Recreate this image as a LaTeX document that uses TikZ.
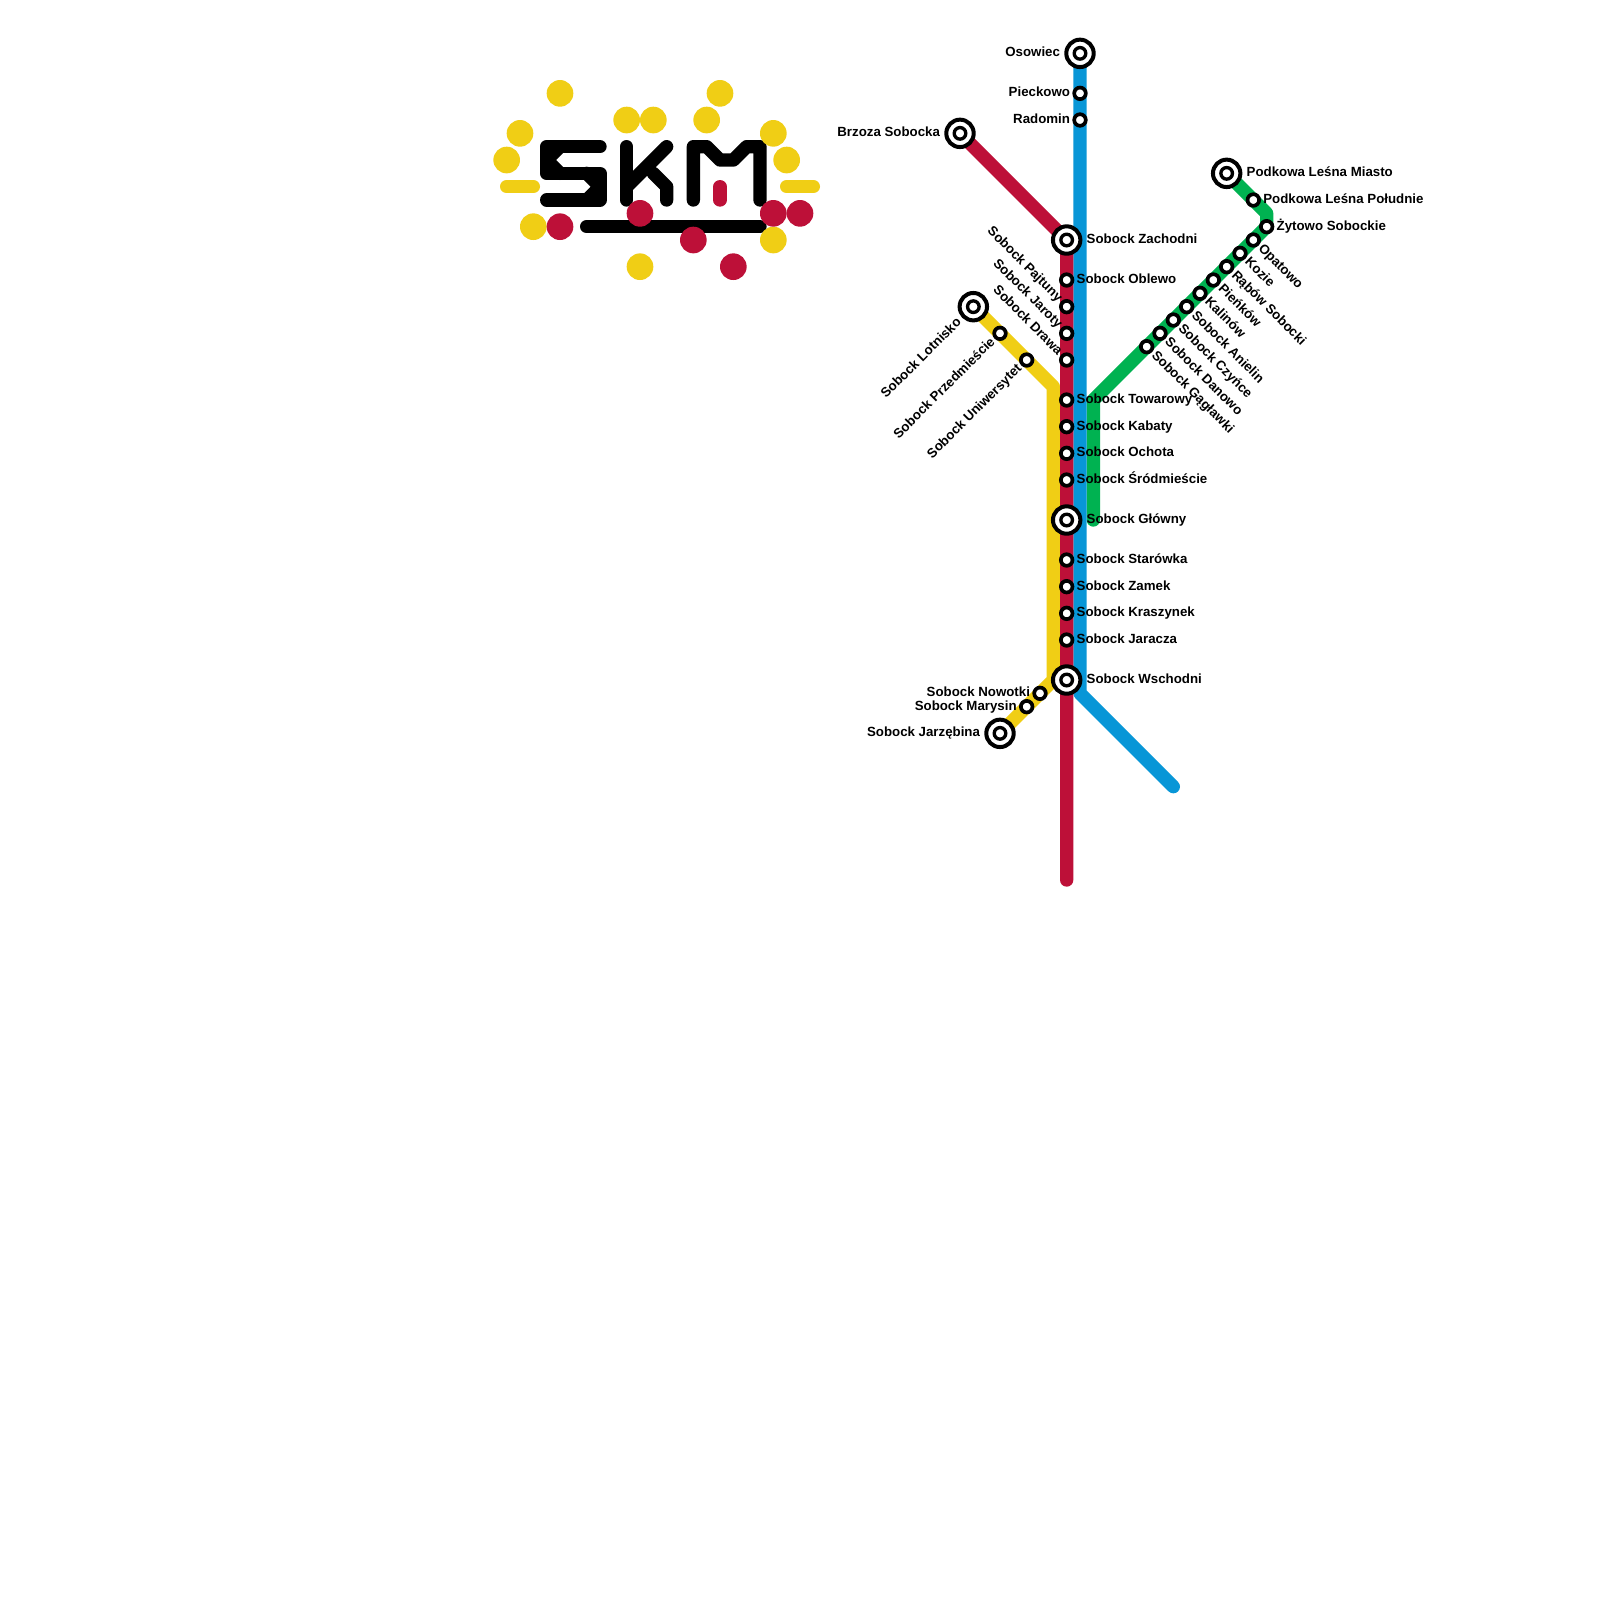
\documentclass[tikz,border=0pt]{standalone}
\usepackage{fontspec}
\setmainfont{Liberation Sans Bold}
\definecolor{lred}{HTML}{BD1038}
\definecolor{lblue}{HTML}{0896D7}
\definecolor{lgreen}{HTML}{00B251}
\definecolor{lyellow}{HTML}{F0CE15}
\pgfdeclarelayer{lines}
\pgfsetlayers{lines,main}
\tikzset{
 x=0.133333cm,y=-0.133333cm,
 lineway/.style={line width=3.793pt,line cap=round,line join=round},
 logo/.style={line width=3.793pt,line cap=round,line join=round,draw=black},
 stn/.style={circle,draw=black,fill=white,line width=1.05pt,minimum size=3.3pt,inner sep=0pt},
 hubin/.style={circle,draw=black,fill=white,line width=0.95pt,minimum size=3.3pt,inner sep=0pt},
 hub/.style={circle,draw=black,fill=white,line width=1.14pt,minimum size=7.8pt,inner sep=0pt},
 lab/.style={inner sep=0pt,outer sep=0pt,text height=2pt,text depth=0pt,font=\fontsize{3.78}{5}\selectfont},
 dot/.style={circle,inner sep=0pt,minimum size=7.586pt},
 ydot/.style={dot,fill=lyellow},
 rdot/.style={dot,fill=lred},
}
\newcommand\stnat[3]{\node[stn] (#1) at (#2,#3) {};}
\newcommand\hubat[3]{\node[hub] (#1) at (#2,#3) {}; \node[hubin] (#1-in) at (#2,#3) {};}
\newcommand\labE[3]{\node[lab,anchor=west] (#1-l) at ([xshift=#2*0.13333cm]#1.center) {#3};}
\newcommand\labW[3]{\node[lab,anchor=east] (#1-l) at ([xshift=-#2*0.13333cm]#1.center) {#3};}
\newcommand\labSE[2]{\node[lab,anchor=west,rotate=-45] (#1-l) at ([shift={(0.52,0.52)}]#1.center) {#2};}
\newcommand\labNW[2]{\node[lab,anchor=east,rotate=-45] (#1-l) at ([shift={(-0.52,-0.52)}]#1.center) {#2};}
\newcommand\labSW[3]{\node[lab,anchor=east,rotate=45] (#1-l) at ([shift={(-#2,#2)}]#1.center) {#3};}
\begin{document}
\begin{tikzpicture}
\useasboundingbox (0,0) rectangle (120,120);
% blue
\hubat{osowiec}{81}{4}\stnat{pieckowo}{81}{7}\stnat{radomin}{81}{9}
\coordinate (bturn) at (81,52); \coordinate (bend) at (88,59);
% red
\hubat{brzoza}{72}{10}\hubat{zachodni}{80}{18}
\stnat{oblewo}{80}{21}\stnat{pajtuny}{80}{23}\stnat{jaroty}{80}{25}\stnat{drawa}{80}{27}
\stnat{towarowy}{80}{30}\stnat{kabaty}{80}{32}\stnat{ochota}{80}{34}\stnat{srodm}{80}{36}
\hubat{glowny}{80}{39}\stnat{starowka}{80}{42}\stnat{zamek}{80}{44}\stnat{kraszynek}{80}{46}
\stnat{jaracza}{80}{48}\hubat{wschodni}{80}{51}
\coordinate (rend) at (80,66);
% yellow
\hubat{lotnisko}{73}{23}\stnat{przedm}{75}{25}\stnat{uniw}{77}{27}
\coordinate (yt) at (79,29); \coordinate (yb) at (79,51);
\stnat{nowotki}{78}{52}\stnat{marysin}{77}{53}\hubat{jarzebina}{75}{55}
% green
\hubat{miasto}{92}{13}\stnat{poludnie}{94}{15}\coordinate (ga) at (95,16);\stnat{zytowo}{95}{17}
\stnat{opatowo}{94}{18}\stnat{kozie}{93}{19}\stnat{rabow}{92}{20}\stnat{pienkow}{91}{21}
\stnat{kalinow}{90}{22}\stnat{anielin}{89}{23}\stnat{czynce}{88}{24}\stnat{danowo}{87}{25}\stnat{gaglawki}{86}{26}
\coordinate (gb) at (82,30); \coordinate (gc) at (82,39);
\begin{pgfonlayer}{lines}
\fill[white] (0,0) rectangle (120,120);
\draw[lineway,lgreen] (miasto.center)--(ga)--(zytowo.center)--(gb)--(gc);
\draw[lineway,lblue] (osowiec.center)--(bturn)--(bend);
\draw[lineway,lyellow] (lotnisko.center)--(yt)--(yb)--(jarzebina.center);
\draw[lineway,lred] (brzoza.center)--(zachodni.center)--(rend);
\end{pgfonlayer}
% labels
\labW{osowiec}{1.5}{Osowiec}
\labW{pieckowo}{0.75}{Pieckowo}
\labW{radomin}{0.75}{Radomin}
\labW{brzoza}{1.5}{Brzoza Sobocka}
\labE{zachodni}{1.5}{Sobock Zachodni}
\labE{oblewo}{0.75}{Sobock Oblewo}
\labNW{pajtuny}{Sobock Pajtuny}
\labNW{jaroty}{Sobock Jaroty}
\labNW{drawa}{Sobock Drawa}
\labE{towarowy}{0.75}{Sobock Towarowy}
\labE{kabaty}{0.75}{Sobock Kabaty}
\labE{ochota}{0.75}{Sobock Ochota}
\labE{srodm}{0.75}{Sobock Śródmieście}
\labE{glowny}{1.5}{Sobock Główny}
\labE{starowka}{0.75}{Sobock Starówka}
\labE{zamek}{0.75}{Sobock Zamek}
\labE{kraszynek}{0.75}{Sobock Kraszynek}
\labE{jaracza}{0.75}{Sobock Jaracza}
\labE{wschodni}{1.5}{Sobock Wschodni}
\labSW{lotnisko}{1.05}{Sobock Lotnisko}
\labSW{przedm}{0.52}{Sobock Przedmieście}
\labSW{uniw}{0.52}{Sobock Uniwersytet}
\labW{nowotki}{0.75}{Sobock Nowotki}
\labW{marysin}{0.75}{Sobock Marysin}
\labW{jarzebina}{1.5}{Sobock Jarzębina}
\labE{miasto}{1.5}{Podkowa Leśna Miasto}
\labE{poludnie}{0.75}{Podkowa Leśna Południe}
\labE{zytowo}{0.75}{Żytowo Sobockie}
\labSE{opatowo}{Opatowo}
\labSE{kozie}{Kozie}
\labSE{rabow}{Rąbów Sobocki}
\labSE{pienkow}{Pieńków}
\labSE{kalinow}{Kalinów}
\labSE{anielin}{Sobock Anielin}
\labSE{czynce}{Sobock Czyńce}
\labSE{danowo}{Sobock Danowo}
\labSE{gaglawki}{Sobock Gągławki}
% logo
\draw[logo] (45,11)--(41,11)--(41,13)--(45,13)--(45,15)--(41,15);
\draw[logo] (42,11)--(41,12)--(42,13);
\draw[logo] (44,13)--(45,14)--(44,15);
\draw[logo] (47,11)--(47,15);
\draw[logo] (50,11)--(47,14);
\draw[logo] (49,13)--(50,14)--(50,15);
\draw[logo] (52,15)--(52,11)--(53,11)--(54,12)--(55,12)--(56,11)--(57,11)--(57,15);
\draw[logo] (44,17)--(57,17);
\draw[lineway,lred] (54,14)--(54,15);
\draw[lineway,lyellow] (38,14)--(40,14);
\draw[lineway,lyellow] (59,14)--(61,14);
\node[ydot] (y1) at (42,7) {};
\node[ydot] (y2) at (39,10) {};
\node[ydot] (y3) at (38,12) {};
\node[ydot] (y4) at (47,9) {};
\node[ydot] (y5) at (49,9) {};
\node[ydot] (y6) at (54,7) {};
\node[ydot] (y7) at (53,9) {};
\node[ydot] (y8) at (58,10) {};
\node[ydot] (y9) at (59,12) {};
\node[ydot] (y10) at (40,17) {};
\node[ydot] (y11) at (58,18) {};
\node[ydot] (y12) at (48,20) {};
\node[rdot] (r1) at (42,17) {};
\node[rdot] (r2) at (48,16) {};
\node[rdot] (r3) at (52,18) {};
\node[rdot] (r4) at (55,20) {};
\node[rdot] (r5) at (58,16) {};
\node[rdot] (r6) at (60,16) {};
\end{tikzpicture}
\end{document}
